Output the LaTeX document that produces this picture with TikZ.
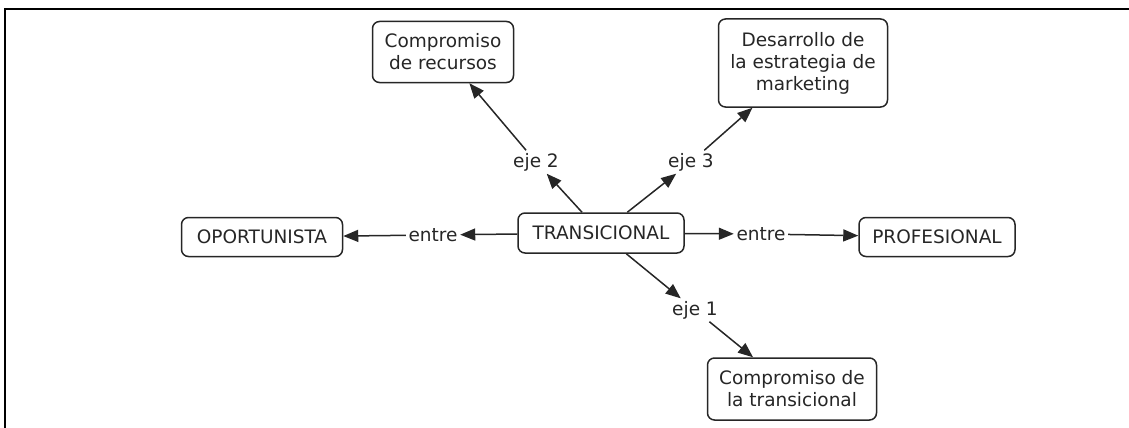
\documentclass[tikz,border=0pt]{standalone}
\usepackage{fontspec}
\setmainfont{DejaVu Sans}
\usetikzlibrary{arrows.meta}

\begin{document}
\begin{tikzpicture}[x=1pt, y=-1pt, line width=1.5pt, draw=black!85, text=black!85,
	main/.style = {draw, rounded corners=7pt, align=center, inner sep=0pt, font=\fontsize{18.5}{22}\selectfont},
	lbl/.style = {inner sep=2pt, font=\fontsize{18.5}{22}\selectfont},
	arr/.style = {-{Triangle[length=15pt,width=12pt]}}]
	\useasboundingbox (0,0) rectangle (1129,428);
	\draw[line width=2pt, black] (5,428) -- (5,9) -- (1129,9);
		\node[main] (1) [minimum width=166pt, minimum height=40pt] at (601,233) {TRANSICIONAL};
		\node[main] (2) [minimum width=161pt, minimum height=39pt] at (262,237) {OPORTUNISTA};
		\node[main] (3) [minimum width=156pt, minimum height=39pt] at (937,237) {PROFESIONAL};
		\node[main] (4) [minimum width=141pt, minimum height=61pt] at (443,52) {Compromiso\\de recursos};
		\node[main] (5) [minimum width=169pt, minimum height=88pt] at (803,63) {Desarrollo de\\la estrategia de\\marketing};
		\node[main] (6) [minimum width=169pt, minimum height=62pt] at (792,389) {Compromiso de\\la transicional};
		\node[lbl] (7) at (433,235) {entre};
		\node[lbl] (8) at (761,234) {entre};
		\node[lbl] (9) at (536,162) {eje 2};
		\node[lbl] (10) at (691,162) {eje 3};
		\node[lbl] (11) at (695,310) {eje 1};
		\path[arr] (1) edge (7)
			(7) edge (2)
			(1) edge (8)
			(8) edge (3)
			(1) edge (9)
			(9) edge (4)
			(1) edge (10)
			(10) edge (5)
			(1) edge (11)
			(11) edge (6);
	\end{tikzpicture}
\end{document}
